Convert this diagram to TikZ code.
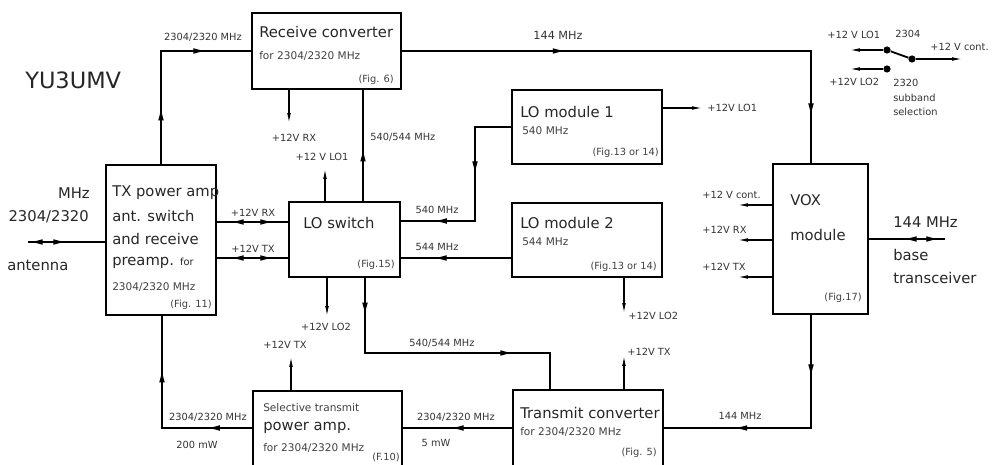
\documentclass[tikz,border=0pt]{standalone}
\usepackage{fontspec}
\setmainfont{DejaVu Sans}
\usetikzlibrary{arrows.meta,positioning,calc}

\begin{document}
\begin{tikzpicture}[x=0.025cm, y=-0.025cm, >={Latex[length=7pt,width=2.6pt]},
    blk/.style 2 args={draw, line width=1.1pt, minimum width=#1*0.025cm, minimum height=#2*0.025cm, inner sep=0pt},
    ttl/.style={font=\fontsize{10.5}{12}\selectfont, anchor=west, inner sep=0pt, text=black!85},
    sub/.style={font=\fontsize{7.5}{9}\selectfont, anchor=west, inner sep=0pt, text=black!75},
    fig/.style={font=\fontsize{7}{8}\selectfont, anchor=east, inner sep=0pt, text=black!75},
    lbl/.style={font=\fontsize{7}{8}\selectfont, inner sep=0pt, text=black!80},
    big/.style={font=\fontsize{10.5}{12}\selectfont, inner sep=0pt, text=black!85},
    wire/.style={line width=0.8pt},
    sup/.style={wire, ->},
    mida/.style={wire, -{Latex[length=9pt,width=4pt]}},
    dot/.style={circle, fill, inner sep=0pt, minimum size=0.18cm}
]
\useasboundingbox (0,0) rectangle (994,465);
\clip (0,0) rectangle (994,465);

\node[blk={149}{76}] (rc) at (326.5,51) {};
\node[blk={110}{150}] (txpa) at (161,240) {};
\node[blk={111}{75}] (los) at (344.5,239.5) {};
\node[blk={150}{74}] (lo1) at (587,127) {};
\node[blk={150}{74}] (lo2) at (587,240) {};
\node[blk={95}{150}] (vox) at (820.5,239) {};
\node[blk={149}{82}] (spa) at (327.5,432) {};
\node[blk={150}{83}] (tc) at (588,431.5) {};

\node[ttl] (rct) at (259,32) {Receive converter};
\node[sub] (rcs) at (259,56) {for 2304/2320 MHz};
\node[fig] (rcf) at (394,80) {(Fig. 6)};

\node[ttl] (txa) at (112,193) {TX power amp};
\node[ttl] (txb) at (112,216) {ant. switch};
\node[ttl] (txc) at (112,239) {and receive};
\node[ttl] (txd) at (112,263) {preamp. {\fontsize{7}{8}\selectfont for}};
\node[sub] (txe) at (112,287) {2304/2320 MHz};
\node[fig] (txf) at (212,305) {(Fig. 11)};

\node[ttl] (lost) at (303,223) {LO switch};
\node[fig] (losf) at (395,265) {(Fig.15)};

\node[ttl] (lo1t) at (520,112) {LO module 1};
\node[sub] (lo1s) at (522,131) {540 MHz};
\node[fig] (lo1f) at (659,153) {(Fig.13 or 14)};

\node[ttl] (lo2t) at (520,223) {LO module 2};
\node[sub] (lo2s) at (522,242) {544 MHz};
\node[fig] (lo2f) at (657,267) {(Fig.13 or 14)};

\node[ttl] (voxa) at (790,200) {VOX};
\node[ttl] (voxb) at (790,235) {module};
\node[fig] (voxf) at (862,298) {(Fig.17)};

\node[sub] (spaa) at (263,408) {Selective transmit};
\node[ttl] (spab) at (263,428) {power amp.};
\node[sub] (spac) at (263,448) {for 2304/2320 MHz};
\node[fig] (spaf) at (400,457) {(F.10)};

\node[ttl] (tca) at (520,413) {Transmit converter};
\node[sub] (tcb) at (520,432) {for 2304/2320 MHz};
\node[fig] (tcf) at (657,453) {(Fig. 5)};

\node[font=\fontsize{16}{18}\selectfont, anchor=west, inner sep=0pt, text=black!85] (call) at (25,80) {YU3UMV};

\coordinate (c1) at (161,51);
\coordinate (c2) at (811,51);
\draw[wire] (txpa.north) -- (c1) -- (rc.west);
\draw[mida] (txpa.north) -- ($(txpa.north)!0.5!(c1)$);
\draw[mida] (c1) -- ($(c1)!0.5!(rc.west)$);
\node[lbl] (f1) at (203,37) {2304/2320 MHz};
\draw[wire] (rc.east) -- (c2) -- (vox.north -| c2);
\draw[mida] (rc.east) -- ($(rc.east)!0.4!(c2)$);
\draw[mida] (c2) -- ($(c2)!0.58!(vox.north -| c2)$);
\node[lbl, font=\fontsize{8}{9}\selectfont] (f2) at (558,35) {144 MHz};

\coordinate (rxend) at (289,123);
\draw[sup] (rc.south -| rxend) -- (rxend);
\node[lbl] (rxl) at (294,138) {+12V RX};
\coordinate (lox) at (363,150);
\draw[wire] (los.north -| lox) -- (rc.south -| lox);
\draw[mida] (los.north -| lox) -- ($(los.north -| lox)!0.47!(rc.south -| lox)$);
\node[lbl, anchor=west] (lol) at (370,137) {540/544 MHz};
\coordinate (lo1v) at (325,169);
\draw[sup] (los.north -| lo1v) -- (lo1v);
\node[lbl] (lo1l) at (322,157) {+12 V LO1};

\coordinate (m1) at (475,127);
\coordinate (m2) at (475,221);
\draw[wire] (lo1.west) -- (m1) -- (m2) -- (los.east |- m2);
\draw[mida] (m1) -- ($(m1)!0.5!(m2)$);
\draw[mida] (m2) -- ($(m2)!0.55!(los.east |- m2)$);
\node[lbl] (f540) at (437,210) {540 MHz};
\coordinate (m3) at (440,258);
\draw[wire] (lo2.west |- m3) -- (los.east |- m3);
\draw[mida] (lo2.west |- m3) -- ($(lo2.west |- m3)!0.7!(los.east |- m3)$);
\node[lbl] (f544) at (437,247) {544 MHz};

\coordinate (lo1p) at (702,108);
\draw[sup] (lo1.east |- lo1p) -- (lo1p);
\node[lbl, anchor=west] (lo1pl) at (707,108) {+12V LO1};
\coordinate (lo2p) at (624,313);
\draw[sup] (lo2.south -| lo2p) -- (lo2p);
\node[lbl, anchor=west] (lo2pl) at (628,316) {+12V LO2};
\coordinate (lsp) at (327,316);
\draw[sup] (los.south -| lsp) -- (lsp);
\node[lbl] (lspl) at (326,327) {+12V LO2};

\coordinate (k1) at (365,353);
\coordinate (k2) at (550,353);
\draw[wire] (los.south -| k1) -- (k1) -- (k2) -- (tc.north -| k2);
\draw[mida] (los.south -| k1) -- ($(los.south -| k1)!0.5!(k1)$);
\draw[mida] (k1) -- ($(k1)!0.8!(k2)$);
\node[lbl] (fk) at (442,343) {540/544 MHz};

\coordinate (spv) at (291,357);
\draw[sup] (spa.north -| spv) -- (spv);
\node[lbl] (spvl) at (285,345) {+12V TX};
\coordinate (tcv) at (624,356);
\draw[sup] (tc.north -| tcv) -- (tcv);
\node[lbl, anchor=west] (tcvl) at (627,352) {+12V TX};

\coordinate (b1) at (162,428);
\draw[wire] (spa.west |- b1) -- (b1) -- (txpa.south -| b1);
\draw[mida] (b1) -- ($(b1)!0.52!(txpa.south -| b1)$);
\draw[mida] (spa.west |- b1) -- ($(spa.west |- b1)!0.5!(b1)$);
\node[lbl] (f3) at (208,417) {2304/2320 MHz};
\node[lbl] (p1) at (197,445) {200 mW};
\draw[wire] (tc.west |- b1) -- (spa.east |- b1);
\draw[mida] (tc.west |- b1) -- ($(tc.west |- b1)!0.56!(spa.east |- b1)$);
\node[lbl] (f4) at (456,417) {2304/2320 MHz};
\node[lbl] (p2) at (436,443) {5 mW};
\coordinate (b2) at (811,428);
\draw[wire] (vox.south -| b2) -- (b2) -- (tc.east |- b2);
\draw[mida] (vox.south -| b2) -- ($(vox.south -| b2)!0.55!(b2)$);
\draw[mida] (b2) -- ($(b2)!0.52!(tc.east |- b2)$);
\node[lbl] (f5) at (740,416) {144 MHz};

\coordinate (v1) at (738,205);
\coordinate (v2) at (738,240);
\coordinate (v3) at (738,277);
\draw[sup] (vox.west |- v1) -- (v1);
\draw[sup] (vox.west |- v2) -- (v2);
\draw[sup] (vox.west |- v3) -- (v3);
\node[lbl, anchor=west] (v1l) at (702,195) {+12 V cont.};
\node[lbl, anchor=west] (v2l) at (702,230) {+12V RX};
\node[lbl, anchor=west] (v3l) at (702,267) {+12V TX};

\coordinate (bt) at (945,239);
\coordinate (bm) at (921,239);
\draw[wire] (vox.east |- bt) -- (bt);
\draw[mida] (bm) -- (904,239);
\draw[mida] (bm) -- (939,239);
\node[big, anchor=west] (f6) at (893,222) {144 MHz};
\node[big, anchor=west] (bta) at (893,255) {base};
\node[big, anchor=west] (btb) at (893,278) {transceiver};

\coordinate (ant) at (28,242);
\coordinate (am) at (48,242);
\draw[wire] (txpa.west |- ant) -- (ant);
\draw[mida] (am) -- (30,242);
\draw[mida] (am) -- (66,242);
\node[big, anchor=east] (antm) at (90,193) {MHz};
\node[big, anchor=east] (antf) at (89,217) {2304/2320};
\node[big, anchor=west] (antl) at (7,265) {antenna};

\coordinate (r1) at (252,222);
\coordinate (r2) at (252,258);
\draw[wire] (txpa.east |- r1) -- (los.west |- r1);
\draw[wire] (txpa.east |- r2) -- (los.west |- r2);
\draw[mida] (r1) -- (231,222);
\draw[mida] (r1) -- (273,222);
\draw[mida] (r2) -- (231,258);
\draw[mida] (r2) -- (273,258);
\node[lbl] (r1l) at (253,213) {+12V RX};
\node[lbl] (r2l) at (253,249) {+12V TX};

\node[dot] (s1) at (887,50) {};
\node[dot] (s2) at (887,69) {};
\node[dot] (sc) at (912,59) {};
\draw[line width=1.3pt] (s1) -- (sc);
\coordinate (sl1) at (850,50);
\coordinate (sl2) at (850,69);
\coordinate (scr) at (962,59);
\draw[sup] (s1) -- (sl1);
\draw[sup] (s2) -- (sl2);
\draw[sup] (sc) -- (scr);
\node[lbl, anchor=west] (sw1) at (827,35) {+12 V LO1};
\node[lbl, anchor=west] (sw2) at (895,34) {2304};
\node[lbl, anchor=west] (sw3) at (930,47) {+12 V cont.};
\node[lbl, anchor=west] (sw4) at (829,82) {+12V LO2};
\node[lbl, anchor=west] (sw5) at (893,83) {2320};
\node[lbl, anchor=west] (sw6) at (893,98) {subband};
\node[lbl, anchor=west] (sw7) at (893,112) {selection};
\end{tikzpicture}
\end{document}
